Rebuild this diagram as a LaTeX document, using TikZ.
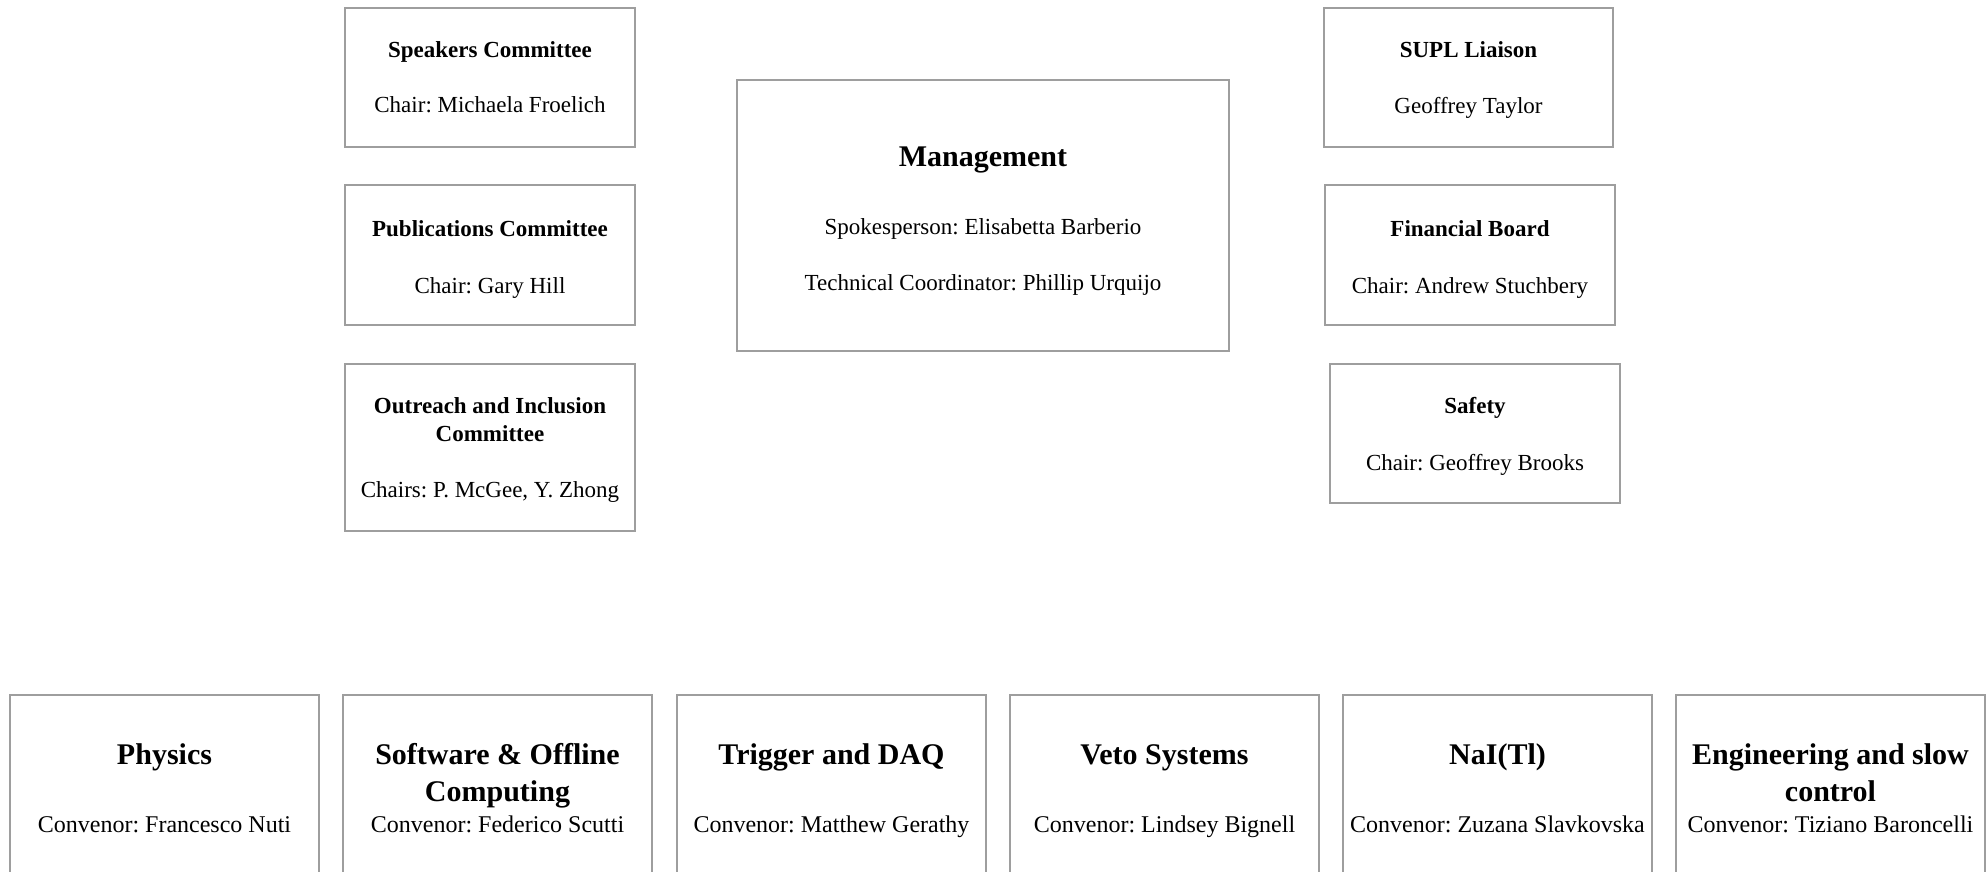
\documentclass[tikz,border=0pt]{standalone}
\usepackage{fontspec}
\setmainfont{Liberation Serif}
\definecolor{boxgray}{RGB}{158,158,158}
\frenchspacing
\begin{document}
\begin{tikzpicture}[x=1pt,y=-1pt,
  box/.style={draw=boxgray, line width=2.5pt, inner sep=0pt, outer sep=0pt, fill=none},
  ttl/.style={font=\fontsize{23}{27}\selectfont\bfseries, anchor=base, inner sep=0pt},
  txt/.style={font=\fontsize{23}{27}\selectfont, anchor=base, inner sep=0pt},
  bigttl/.style={font=\fontsize{30}{36}\selectfont\bfseries, anchor=base, inner sep=0pt},
  conv/.style={font=\fontsize{24}{28}\selectfont, anchor=base, inner sep=0pt}]
\useasboundingbox (0,0) rectangle (1986,872);
\clip (0,0) rectangle (1986,872);
% top left column
\node[box, minimum width=290pt, minimum height=139pt] (speakers) at (490,77.5) {};
\node[ttl] (speakersT) at (490,58) {Speakers Committee};
\node[txt] (speakersC) at (490,113) {Chair: Michaela Froelich};
\node[box, minimum width=290pt, minimum height=140pt] (pubs) at (490,255) {};
\node[ttl] (pubsT) at (490,236) {Publications Committee};
\node[txt] (pubsC) at (490,293) {Chair: Gary Hill};
\node[box, minimum width=290pt, minimum height=167pt] (outreach) at (490,447.5) {};
\node[ttl] (outreachT1) at (490,413) {Outreach and Inclusion};
\node[ttl] (outreachT2) at (490,441) {Committee};
\node[txt] (outreachC) at (490,497) {Chairs: P. McGee, Y. Zhong};
% management
\node[box, minimum width=492pt, minimum height=271pt] (mgmt) at (983,215.5) {};
\node[bigttl] (mgmtT) at (983,167) {Management};
\node[txt] (mgmtS) at (983,234) {Spokesperson: Elisabetta Barberio};
\node[txt] (mgmtC) at (983,290) {Technical Coordinator: Phillip Urquijo};
% top right column
\node[box, minimum width=289pt, minimum height=139pt] (supl) at (1468.5,77.5) {};
\node[ttl] (suplT) at (1468.5,58) {SUPL Liaison};
\node[txt] (suplC) at (1468.5,114) {Geoffrey Taylor};
\node[box, minimum width=290pt, minimum height=140pt] (fin) at (1470,255) {};
\node[ttl] (finT) at (1470,236) {Financial Board};
\node[txt] (finC) at (1470,293) {Chair: Andrew Stuchbery};
\node[box, minimum width=290pt, minimum height=139pt] (safety) at (1475,433.5) {};
\node[ttl] (safetyT) at (1475,413) {Safety};
\node[txt] (safetyC) at (1475,470) {Chair: Geoffrey Brooks};
% bottom row
\node[box, minimum width=309pt, minimum height=300pt, anchor=north west] (phys) at (10,695) {};
\node[bigttl] (physT) at (164.5,764) {Physics};
\node[conv] (physC) at (164.5,832) {Convenor: Francesco Nuti};
\node[box, minimum width=309pt, minimum height=300pt, anchor=north west] (soft) at (343,695) {};
\node[bigttl] (softT1) at (497.5,764) {Software \& Offline};
\node[bigttl] (softT2) at (497.5,801) {Computing};
\node[conv] (softC) at (497.5,832) {Convenor: Federico Scutti};
\node[box, minimum width=309pt, minimum height=300pt, anchor=north west] (trig) at (677,695) {};
\node[bigttl] (trigT) at (831.5,764) {Trigger and DAQ};
\node[conv] (trigC) at (831.5,832) {Convenor: Matthew Gerathy};
\node[box, minimum width=309pt, minimum height=300pt, anchor=north west] (veto) at (1010,695) {};
\node[bigttl] (vetoT) at (1164.5,764) {Veto Systems};
\node[conv] (vetoC) at (1164.5,832) {Convenor: Lindsey Bignell};
\node[box, minimum width=309pt, minimum height=300pt, anchor=north west] (nai) at (1343,695) {};
\node[bigttl] (naiT) at (1497.5,764) {NaI(Tl)};
\node[conv] (naiC) at (1497.5,832) {Convenor: Zuzana Slavkovska};
\node[box, minimum width=309pt, minimum height=300pt, anchor=north west] (eng) at (1676,695) {};
\node[bigttl] (engT1) at (1830.5,764) {Engineering and slow};
\node[bigttl] (engT2) at (1830.5,801) {control};
\node[conv] (engC) at (1830.5,832) {Convenor: Tiziano Baroncelli};
\end{tikzpicture}
\end{document}
